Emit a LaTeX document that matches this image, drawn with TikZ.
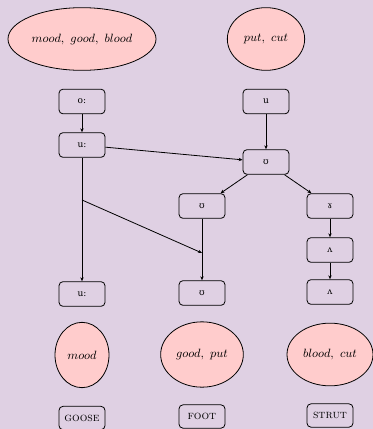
\documentclass[tikz,border=0pt]{standalone}
\usepackage{fontspec}
\newfontfamily\ipa{DejaVu Serif}
\usetikzlibrary{shapes.geometric,arrows.meta,calc}
\definecolor{bgcol}{HTML}{DFD0E3}
\definecolor{pinkfill}{HTML}{FFCCCC}
\begin{document}
\begin{tikzpicture}[x=0.75pt,y=-0.75pt,
  box/.style={draw,rounded corners=3pt,line width=0.6pt,minimum width=34.5pt,minimum height=18.5pt,inner sep=0pt,font=\ipa\fontsize{6.8}{7}\selectfont},
  lab/.style={draw,rounded corners=3pt,line width=0.6pt,minimum width=34.5pt,minimum height=17.5pt,inner sep=0pt,font=\small\scshape},
  ell/.style={draw,ellipse,fill=pinkfill,line width=0.6pt,inner sep=0pt,font=\small},
  arr/.style={line width=0.6pt,-{Stealth[length=3pt,width=2.5pt]}},
  ln/.style={line width=0.6pt}]
\fill[bgcol] (0,0) rectangle (373,429);
\useasboundingbox (0,0) rectangle (373,429);
% top ellipses
\node[ell,minimum width=111pt,minimum height=47pt] (e1) at (82,39) {$mood,\ good,\ blood$};
\node[ell,minimum width=58pt,minimum height=47pt] (e2) at (266,39) {$put,\ cut$};
% boxes
\node[box] (o1) at (82,101.5) {o:};
\node[box] (u2) at (82,145) {u:};
\node[box] (u3) at (82,294) {u:};
\node[box] (r1) at (266,101.5) {u};
\node[box] (v1) at (266,162) {ʊ};
\node[box] (v2) at (202,206) {ʊ};
\node[box] (v3) at (202,293) {ʊ};
\node[box] (g1) at (330,206) {ɤ};
\node[box] (a1) at (330,250) {ʌ};
\node[box] (a2) at (330,292) {ʌ};
% connectors
\draw[arr] (o1) -- (u2);
\draw[arr] (r1) -- (v1);
\draw[arr] (u2) -- (v1);
\draw[arr] (v1) -- (v2);
\draw[arr] (v1) -- (g1);
\draw[arr] (g1) -- (a1);
\draw[arr] (a1) -- (a2);
\draw[arr] (u2) -- (u3);
\draw[arr] (v2) -- (v3);
\coordinate (m) at ($(u2)!0.369!(u3)$);
\coordinate (n) at ($(v2)!0.54!(v3)$);
\draw[arr] (m) -- (n);
% bottom ellipses
\node[ell,minimum width=40.5pt,minimum height=49pt] (b1) at (82,355) {$mood$};
\node[ell,minimum width=62pt,minimum height=49pt] (b2) at (202,354.5) {$good,\ put$};
\node[ell,minimum width=64.5pt,minimum height=47pt] (b3) at (330,354.5) {$blood,\ cut$};
% bottom labels
\node[lab] (l1) at (82,418) {goose};
\node[lab] (l2) at (202,416.5) {foot};
\node[lab] (l3) at (330,415.5) {strut};
\end{tikzpicture}
\end{document}
